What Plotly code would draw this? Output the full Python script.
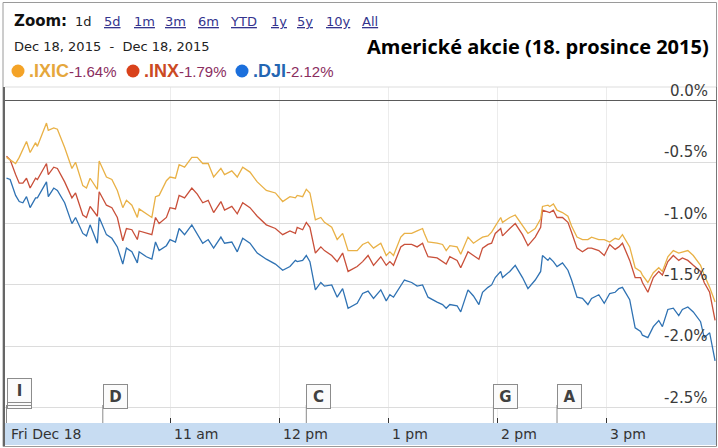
import plotly.graph_objects as go
import pandas as pd

# ---- data ----
minutes = [0,2,5,7,9,11,13,16,17,22,23,26,28,32,36,38,42,44,46,50,
           51,55,58,61,64,66,69,72,73,77,80,82,84,88,90,93,95,98,102,105,
           108,111,114,118,120,124,127,130,134,138,141,143,148,152,156,159,160,163,165,167,
           170,173,175,179,182,185,188,193,196,199,202,206,209,211,213,217,219,223,226,229,
           230,232,237,240,242,244,248,250,254,257,260,262,265,267,269,272,273,277,280,284,
           287,291,294,295,298,299,301,303,306,309,311,314,317,320,322,326,329,332,335,337,
           339,343,346,349,350,353,356,359,361,364,367,370,372,375,378,382,384,387,390]

ixic = [-0.46,-0.48,-0.51,-0.46,-0.40,-0.33,-0.42,-0.34,-0.37,-0.18,
        -0.24,-0.22,-0.23,-0.38,-0.55,-0.50,-0.69,-0.71,-0.63,-0.72,
        -0.49,-0.62,-0.64,-0.73,-0.87,-0.81,-0.85,-0.95,-0.88,-0.92,
        -0.95,-0.78,-0.77,-0.65,-0.62,-0.63,-0.52,-0.54,-0.46,-0.46,
        -0.51,-0.51,-0.62,-0.55,-0.60,-0.57,-0.62,-0.54,-0.58,-0.66,
        -0.70,-0.73,-0.75,-0.82,-0.78,-0.79,-0.77,-0.78,-0.72,-0.75,
        -0.97,-0.95,-0.99,-1.03,-1.13,-1.08,-1.22,-1.22,-1.17,-1.15,
        -1.20,-1.16,-1.26,-1.23,-1.26,-1.11,-1.08,-1.08,-1.06,-1.04,
        -1.08,-1.15,-1.16,-1.17,-1.22,-1.18,-1.19,-1.25,-1.11,-1.16,
        -1.13,-1.11,-1.10,-1.07,-1.02,-0.95,-0.99,-0.95,-0.93,-1.01,
        -1.08,-1.04,-0.96,-0.86,-0.85,-0.86,-0.84,-0.89,-0.91,-0.94,
        -1.02,-1.11,-1.13,-1.13,-1.11,-1.13,-1.13,-1.15,-1.12,-1.13,
        -1.09,-1.19,-1.36,-1.39,-1.42,-1.48,-1.40,-1.36,-1.39,-1.27,
        -1.22,-1.24,-1.23,-1.22,-1.26,-1.34,-1.42,-1.52,-1.64]

inx = [-0.45,-0.48,-0.60,-0.67,-0.67,-0.63,-0.71,-0.63,-0.64,-0.51,
       -0.60,-0.54,-0.55,-0.66,-0.79,-0.75,-0.93,-0.95,-0.86,-0.94,
       -0.74,-0.85,-0.87,-0.95,-1.14,-1.04,-1.05,-1.13,-1.06,-1.08,
       -1.09,-0.95,-1.00,-0.95,-0.87,-0.88,-0.77,-0.79,-0.71,-0.76,
       -0.83,-0.81,-0.91,-0.82,-0.89,-0.86,-0.92,-0.83,-0.87,-0.94,
       -0.98,-1.01,-1.04,-1.09,-1.06,-1.08,-1.03,-1.05,-0.99,-1.03,
       -1.24,-1.19,-1.22,-1.26,-1.31,-1.24,-1.39,-1.35,-1.31,-1.26,
       -1.34,-1.27,-1.34,-1.31,-1.34,-1.19,-1.17,-1.17,-1.19,-1.16,
       -1.20,-1.27,-1.28,-1.31,-1.33,-1.27,-1.30,-1.36,-1.23,-1.26,
       -1.29,-1.20,-1.17,-1.16,-1.08,-1.04,-1.10,-1.04,-1.00,-1.09,
       -1.18,-1.11,-1.03,-0.89,-0.91,-0.91,-0.89,-0.95,-0.95,-0.99,
       -1.07,-1.20,-1.23,-1.20,-1.20,-1.22,-1.26,-1.17,-1.21,-1.19,
       -1.16,-1.30,-1.44,-1.44,-1.48,-1.56,-1.44,-1.39,-1.42,-1.31,
       -1.26,-1.30,-1.28,-1.30,-1.34,-1.39,-1.48,-1.56,-1.79]

dji = [-0.63,-0.64,-0.77,-0.82,-0.83,-0.78,-0.87,-0.79,-0.79,-0.66,
       -0.78,-0.71,-0.73,-0.83,-1.00,-0.95,-1.08,-1.10,-1.01,-1.16,
       -0.95,-1.09,-1.12,-1.19,-1.33,-1.20,-1.23,-1.32,-1.23,-1.27,
       -1.29,-1.15,-1.22,-1.18,-1.13,-1.15,-1.04,-1.09,-1.01,-1.08,
       -1.16,-1.13,-1.20,-1.11,-1.16,-1.15,-1.23,-1.12,-1.16,-1.24,
       -1.27,-1.29,-1.33,-1.38,-1.35,-1.30,-1.31,-1.30,-1.26,-1.31,
       -1.54,-1.48,-1.51,-1.50,-1.60,-1.53,-1.69,-1.65,-1.57,-1.55,
       -1.61,-1.54,-1.63,-1.58,-1.60,-1.50,-1.46,-1.48,-1.51,-1.50,
       -1.53,-1.60,-1.64,-1.66,-1.69,-1.66,-1.67,-1.72,-1.54,-1.59,
       -1.66,-1.56,-1.52,-1.50,-1.44,-1.39,-1.44,-1.39,-1.34,-1.44,
       -1.53,-1.46,-1.39,-1.26,-1.30,-1.28,-1.31,-1.35,-1.32,-1.38,
       -1.46,-1.60,-1.61,-1.66,-1.61,-1.58,-1.65,-1.57,-1.56,-1.53,
       -1.52,-1.62,-1.85,-1.88,-1.91,-1.93,-1.84,-1.79,-1.84,-1.70,
       -1.69,-1.75,-1.70,-1.68,-1.72,-1.80,-1.93,-1.89,-2.12]

series_names = [".IXIC", ".INX", ".DJI"]
series_change = ["-1.64%", "-1.79%", "-2.12%"]

ytick_vals = [0.0, -0.5, -1.0, -1.5, -2.0, -2.5]
ytick_text = ["0.0%", "-0.5%", "-1.0%", "-1.5%", "-2.0%", "-2.5%"]

xtick_times = ["09:30", "11:00", "12:00", "13:00", "14:00", "15:00"]
xtick_text = ["Fri Dec 18", "11 am", "12 pm", "1 pm", "2 pm", "3 pm"]

flag_letters = ["I", "D", "C", "G", "A"]
flag_times = ["09:30", "10:23", "12:15", "13:58", "14:33"]
flag_stack = [3, 1, 1, 1, 1]

zoom_links = ["1d", "5d", "1m", "3m", "6m", "YTD", "1y", "5y", "10y", "All"]
date_range_text = "Dec 18, 2015  -  Dec 18, 2015"
title_text = "Americké akcie (18. prosince 2015)"

# ---- build ----
day = "2015-12-18 "
base = pd.Timestamp(day + "09:30")
times = [base + pd.Timedelta(minutes=m) for m in minutes]

line_colors = ["#e9b146", "#c9503a", "#2f72b3"]
dot_colors = ["#f4a327", "#d9421b", "#1b6fdc"]
name_colors = ["#e5a73c", "#cb4a24", "#2466b3"]

W, H = 718, 448
ML, MR, MT, MB = 5, 2, 87, 25
PW, PH = W - ML - MR, H - MT - MB


def px(x):
    return (x - ML) / PW


def py(y):
    return (H - MB - y) / PH


fig = go.Figure()
for vals, col, nm in zip([dji, inx, ixic], line_colors[::-1], series_names[::-1]):
    fig.add_trace(go.Scatter(x=times, y=vals, mode="lines", name=nm,
                             line=dict(color=col, width=1.3), hoverinfo="skip"))

x_start = base - pd.Timedelta(seconds=50)
x_end = base + pd.Timedelta(minutes=390.5)

hour_ticks = [pd.Timestamp(day + t) for t in xtick_times[1:]]

fig.update_layout(
    width=W, height=H, autosize=False,
    margin=dict(l=ML, r=MR, t=MT, b=MB, pad=0),
    paper_bgcolor="white", plot_bgcolor="white",
    showlegend=False,
    xaxis=dict(type="date", range=[x_start, x_end], tickvals=hour_ticks,
               showticklabels=False, ticks="inside", ticklen=5, tickcolor="#333",
               showgrid=True, gridcolor="#ececec", gridwidth=1, zeroline=False,
               showline=False, fixedrange=True),
    yaxis=dict(range=[-2.626, 0.114], tickvals=ytick_vals, showticklabels=False,
               ticks="", showgrid=True, gridcolor="#dcdcdc", gridwidth=1,
               zeroline=True, zerolinecolor="#5a5a5a", zerolinewidth=1,
               showline=False, fixedrange=True),
)

shapes = []
# bottom time band
shapes.append(dict(type="rect", xref="paper", yref="paper", x0=0, x1=1,
                   y0=py(445), y1=0, fillcolor="#c7dcf2", line=dict(width=0), layer="below"))
# top line of plot
shapes.append(dict(type="line", xref="paper", yref="paper", x0=0, x1=1, y0=1, y1=1,
                   line=dict(color="#dddddd", width=1)))
# outer frame
shapes.append(dict(type="rect", xref="paper", yref="paper", x0=px(3), x1=px(716.5),
                   y0=py(446.5), y1=py(2.5), line=dict(color="#9a9a9a", width=1)))
shapes.append(dict(type="line", xref="paper", yref="paper", x0=px(4), x1=px(4),
                   y0=py(446), y1=1, line=dict(color="#666666", width=2)))
shapes.append(dict(type="line", xref="paper", yref="paper", x0=px(716.5), x1=px(716.5),
                   y0=py(446), y1=1, line=dict(color="#777777", width=1)))

annotations = []
# y tick labels (right side, above gridlines)
for v, txt in zip(ytick_vals, ytick_text):
    annotations.append(dict(x=px(710), xref="paper", y=v, yref="y", text=txt,
                            showarrow=False, xanchor="right", yanchor="bottom", yshift=-1,
                            font=dict(family="DejaVu Sans", size=15, color="#3a3a3a")))

# time labels in band
for t, txt in zip(xtick_times, xtick_text):
    xt = pd.Timestamp(day + t)
    annotations.append(dict(x=xt, xref="x", y=py(434), yref="paper", text=txt,
                            showarrow=False, xanchor="left", yanchor="middle", xshift=2,
                            font=dict(family="DejaVu Sans", size=14, color="#333")))

# news flags
for letter, t, n in zip(flag_letters, flag_times, flag_stack):
    xt = pd.Timestamp(day + t)
    shapes.append(dict(type="line", xref="x", yref="paper", x0=xt, x1=xt,
                       y0=0, y1=py(405), line=dict(color="#8a8a8a", width=1)))
    for k in range(n):
        bottom = 409 - 3 * k
        annotations.append(dict(x=xt, xref="x", y=py(bottom), yref="paper",
                                text="<b>%s</b>" % letter if k == n - 1 else " ",
                                showarrow=False, xanchor="left", yanchor="bottom",
                                width=19, height=19, borderpad=2, borderwidth=1,
                                bordercolor="#8c8c8c", bgcolor="#fbfbfb",
                                font=dict(family="DejaVu Sans", size=15, color="#404040")))

# header: zoom row
annotations.append(dict(x=px(12), y=py(21), xref="paper", yref="paper", text="<b>Zoom:</b>",
                        showarrow=False, xanchor="left", yanchor="middle",
                        font=dict(family="DejaVu Sans", size=15, color="#111")))
link_x = [73, 102, 132, 163, 196, 228, 269, 295, 324, 360]
for lx, lab in zip(link_x, zoom_links):
    if lab == "1d":
        txt = lab
        col = "#222"
    else:
        txt = "<span style='text-decoration:underline'>%s</span>" % lab
        col = "#34348e"
    annotations.append(dict(x=px(lx), y=py(21), xref="paper", yref="paper", text=txt,
                            showarrow=False, xanchor="left", yanchor="middle",
                            font=dict(family="DejaVu Sans", size=13, color=col)))
# date range
annotations.append(dict(x=px(12), y=py(46), xref="paper", yref="paper", text=date_range_text,
                        showarrow=False, xanchor="left", yanchor="middle",
                        font=dict(family="DejaVu Sans", size=13, color="#222")))
# title
annotations.append(dict(x=px(711), y=py(46), xref="paper", yref="paper", text="<b>%s</b>" % title_text,
                        showarrow=False, xanchor="right", yanchor="middle",
                        font=dict(family="Open Sans", size=20, color="#000")))
# legend row
dot_x = [18, 133, 242]
for dx, nm, ch, dc, nc in zip(dot_x, series_names, series_change, dot_colors, name_colors):
    shapes.append(dict(type="circle", xref="paper", yref="paper",
                       x0=px(dx - 6.5), x1=px(dx + 6.5), y0=py(71 + 6.5), y1=py(71 - 6.5),
                       fillcolor=dc, line=dict(width=0)))
    annotations.append(dict(x=px(dx + 9), y=py(71), xref="paper", yref="paper",
                            text="<b>%s</b><span style='font-size:15px;color:#8a2d5e'>%s</span>" % (nm, ch),
                            showarrow=False, xanchor="left", yanchor="middle",
                            font=dict(family="Liberation Sans", size=18, color=nc)))

fig.update_layout(shapes=shapes, annotations=annotations)
fig.write_html("out.html", config={"displayModeBar": False},
               post_script="document.body.style.margin='0';document.body.style.overflow='hidden';")
